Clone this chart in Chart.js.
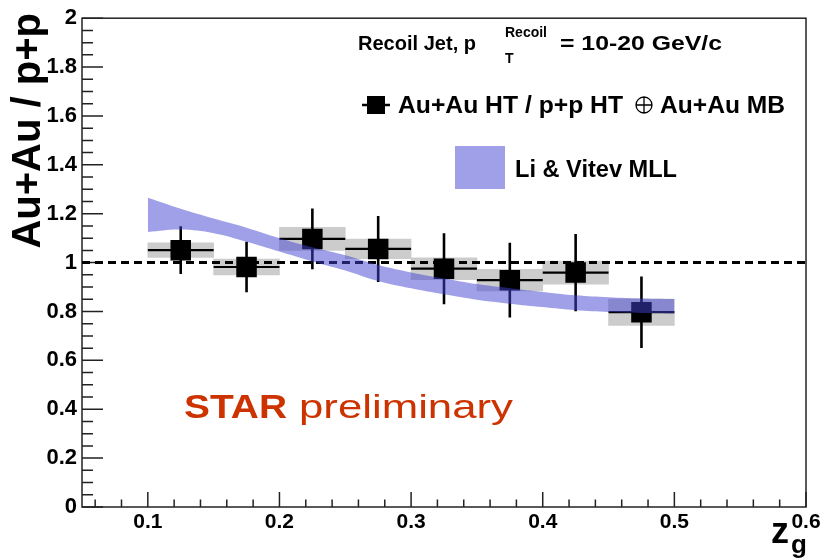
<!DOCTYPE html>
<html>
<head>
<meta charset="utf-8">
<script src="https://cdn.jsdelivr.net/npm/chart.js@4.4.1/dist/chart.umd.min.js"></script>
<style>
body { margin: 0; background: #fff; }
</style>
</head>
<body>
<canvas id="grafico" width="825" height="560"></canvas>
<script>
// datos (Au+Au HT / p+p HT vs z_g)
const zgCentros = [0.125, 0.175, 0.225, 0.275, 0.325, 0.375, 0.425, 0.475];
const razon = [1.051, 0.982, 1.097, 1.056, 0.975, 0.928, 0.959, 0.797];
const errEstad = [0.098, 0.103, 0.124, 0.135, 0.145, 0.153, 0.158, 0.146];
const errSist = [0.030, 0.032, 0.047, 0.040, 0.045, 0.044, 0.047, 0.054];
const anchoBin = 0.05;

// banda teorica Li & Vitev MLL
const teoriaX = [0.1, 0.125, 0.15, 0.175, 0.2, 0.225, 0.25, 0.275, 0.3, 0.325, 0.35, 0.375, 0.4, 0.425, 0.45, 0.475, 0.5];
const teoriaAlto = [1.265, 1.22, 1.18, 1.143, 1.10, 1.063, 1.03, 0.99, 0.96, 0.935, 0.912, 0.895, 0.88, 0.866, 0.858, 0.853, 0.851];
const teoriaBajo = [1.125, 1.135, 1.12, 1.085, 1.045, 1.005, 0.968, 0.925, 0.895, 0.87, 0.848, 0.832, 0.818, 0.805, 0.798, 0.794, 0.792];

const ticksX = [0.1, 0.2, 0.3, 0.4, 0.5, 0.6];
const ticksY = [0, 0.2, 0.4, 0.6, 0.8, 1, 1.2, 1.4, 1.6, 1.8, 2];
const lineaReferencia = 1;

const fuente = '"Liberation Sans", Arial, sans-serif';
const colorBanda = 'rgba(65, 65, 210, 0.5)';
const colorStar = '#cc3300';

const puntos = zgCentros.map((x, i) => ({ x: x, y: razon[i] }));
const cajas = zgCentros.map((x, i) => ({ x: x, y: [razon[i] - errSist[i], razon[i] + errSist[i]] }));
const barrasV = [];
const barrasH = [];
zgCentros.forEach((x, i) => {
    barrasV.push({ x: x, y: razon[i] - errEstad[i] }, { x: x, y: razon[i] + errEstad[i] }, { x: x, y: null });
    barrasH.push({ x: x - anchoBin / 2, y: razon[i] }, { x: x + anchoBin / 2, y: razon[i] }, { x: x, y: null });
});
const bandaAlta = teoriaX.map((x, i) => ({ x: x, y: teoriaAlto[i] }));
const bandaBaja = teoriaX.map((x, i) => ({ x: x, y: teoriaBajo[i] }));

// texto con ancho fijo (el original no tiene metricas de Arial)
function textoAncho(ctx, texto, x, y, ancho) {
    const w = ctx.measureText(texto).width;
    ctx.save();
    ctx.translate(x, y);
    ctx.scale(ancho / w, 1);
    ctx.fillText(texto, 0, 0);
    ctx.restore();
}

const adornos = {
    id: 'adornos',
    beforeDatasetsDraw(chart) {
        const { ctx, chartArea: a, scales } = chart;
        ctx.save();
        ctx.strokeStyle = '#222';
        ctx.lineWidth = 1.5;
        ctx.strokeRect(a.left, a.top, a.right - a.left, a.bottom - a.top);
        ctx.beginPath();
        for (let k = 0; k <= 40; k++) {
            const y = scales.y.getPixelForValue(k * 0.05);
            const largo = k % 4 === 0 ? 21 : 11;
            ctx.moveTo(a.left, y);
            ctx.lineTo(a.left + largo, y);
        }
        for (let k = 3; k <= 30; k++) {
            const x = scales.x.getPixelForValue(k * 0.02);
            const largo = k % 5 === 0 ? 15 : 7.5;
            ctx.moveTo(x, a.bottom);
            ctx.lineTo(x, a.bottom - largo);
        }
        ctx.stroke();
        ctx.restore();
    },
    afterDraw(chart) {
        const { ctx } = chart;
        ctx.save();
        ctx.fillStyle = '#000';
        ctx.textBaseline = 'alphabetic';
        ctx.textAlign = 'left';

        // encabezado
        ctx.font = 'bold 21px ' + fuente;
        textoAncho(ctx, 'Recoil Jet, p', 358, 50, 118);
        ctx.font = 'bold 14px ' + fuente;
        ctx.fillText('Recoil', 505, 37);
        ctx.fillText('T', 505, 63);
        ctx.font = 'bold 21px ' + fuente;
        textoAncho(ctx, '= 10-20 GeV/c', 560, 50, 162);

        // leyenda: puntos
        ctx.strokeStyle = '#000';
        ctx.lineWidth = 2.5;
        ctx.beginPath();
        ctx.moveTo(362, 105);
        ctx.lineTo(390, 105);
        ctx.stroke();
        ctx.fillRect(367, 96, 18, 18);
        ctx.font = 'bold 24px ' + fuente;
        textoAncho(ctx, 'Au+Au HT / p+p HT', 398, 113, 225);
        ctx.lineWidth = 1.3;
        ctx.beginPath();
        ctx.arc(644, 105, 8, 0, Math.PI * 2);
        ctx.moveTo(636, 105);
        ctx.lineTo(652, 105);
        ctx.moveTo(644, 97);
        ctx.lineTo(644, 113);
        ctx.stroke();
        textoAncho(ctx, 'Au+Au MB', 660, 113, 125);

        // leyenda: banda
        ctx.fillStyle = colorBanda;
        ctx.fillRect(455, 146, 50, 43);
        ctx.fillStyle = '#000';
        ctx.font = 'bold 23px ' + fuente;
        textoAncho(ctx, 'Li & Vitev MLL', 515, 177, 162);

        // STAR preliminary
        ctx.fillStyle = colorStar;
        ctx.font = 'bold 34px ' + fuente;
        textoAncho(ctx, 'STAR', 184, 418, 103);
        ctx.font = '34px ' + fuente;
        textoAncho(ctx, 'preliminary', 299, 418, 214);

        // titulo eje y
        ctx.fillStyle = '#000';
        ctx.save();
        ctx.translate(40, 13);
        ctx.rotate(-Math.PI / 2);
        ctx.textAlign = 'right';
        ctx.font = 'bold 40px ' + fuente;
        ctx.fillText('Au+Au / p+p', 0, 0);
        ctx.restore();

        // titulo eje x
        ctx.font = 'bold 36px ' + fuente;
        ctx.fillText('z', 771, 543);
        ctx.font = 'bold 26px ' + fuente;
        ctx.fillText('g', 791, 553);
        ctx.restore();
    }
};

const config = {
    data: {
        datasets: [
            {
                type: 'line',
                label: 'Li & Vitev MLL alto',
                data: bandaAlta,
                borderWidth: 0,
                pointRadius: 0,
                tension: 0.4,
                fill: false
            },
            {
                type: 'line',
                label: 'Li & Vitev MLL',
                data: bandaBaja,
                borderWidth: 0,
                pointRadius: 0,
                tension: 0.4,
                backgroundColor: colorBanda,
                fill: '-1'
            },
            {
                type: 'scatter',
                label: 'Au+Au HT / p+p HT',
                data: puntos,
                pointStyle: 'rect',
                pointRadius: 14.5,
                backgroundColor: '#000',
                borderWidth: 0
            },
            {
                type: 'line',
                label: 'error estadistico',
                data: barrasV,
                borderColor: '#000',
                borderWidth: 2.6,
                pointRadius: 0,
                spanGaps: false
            },
            {
                type: 'line',
                label: 'ancho bin',
                data: barrasH,
                borderColor: '#000',
                borderWidth: 2.2,
                pointRadius: 0,
                spanGaps: false
            },
            {
                type: 'line',
                label: 'referencia',
                data: [{ x: 0.05, y: lineaReferencia }, { x: 0.6, y: lineaReferencia }],
                borderColor: '#000',
                borderWidth: 3,
                borderDash: [8, 5],
                pointRadius: 0
            },
            {
                type: 'bar',
                label: 'error sistematico',
                data: cajas,
                backgroundColor: '#cccccc',
                borderWidth: 0,
                barPercentage: 1,
                categoryPercentage: 1,
                grouped: false
            }
        ]
    },
    options: {
        responsive: false,
        animation: false,
        events: [],
        devicePixelRatio: 1,
        layout: { padding: { top: 14, right: 19, left: 0, bottom: 0 } },
        plugins: {
            legend: { display: false },
            tooltip: { enabled: false }
        },
        scales: {
            x: {
                type: 'linear',
                min: 0.05,
                max: 0.6,
                offset: false,
                grid: { display: false, drawTicks: false, offset: false },
                border: { display: false },
                afterBuildTicks: eje => { eje.ticks = ticksX.map(v => ({ value: v })); },
                afterFit: eje => { eje.height = 53; },
                ticks: {
                    padding: 3,
                    color: '#000',
                    maxRotation: 0,
                    font: { family: fuente, weight: 'bold', size: 21 },
                    callback: v => String(v)
                }
            },
            y: {
                type: 'linear',
                min: 0,
                max: 2,
                grid: { display: false, drawTicks: false },
                border: { display: false },
                afterBuildTicks: eje => { eje.ticks = ticksY.map(v => ({ value: v })); },
                afterFit: eje => { eje.width = 82; },
                ticks: {
                    padding: 5,
                    color: '#000',
                    font: { family: fuente, weight: 'bold', size: 22 },
                    callback: v => String(v)
                }
            }
        }
    },
    plugins: [adornos]
};

new Chart(document.getElementById('grafico'), config);
</script>
</body>
</html>
